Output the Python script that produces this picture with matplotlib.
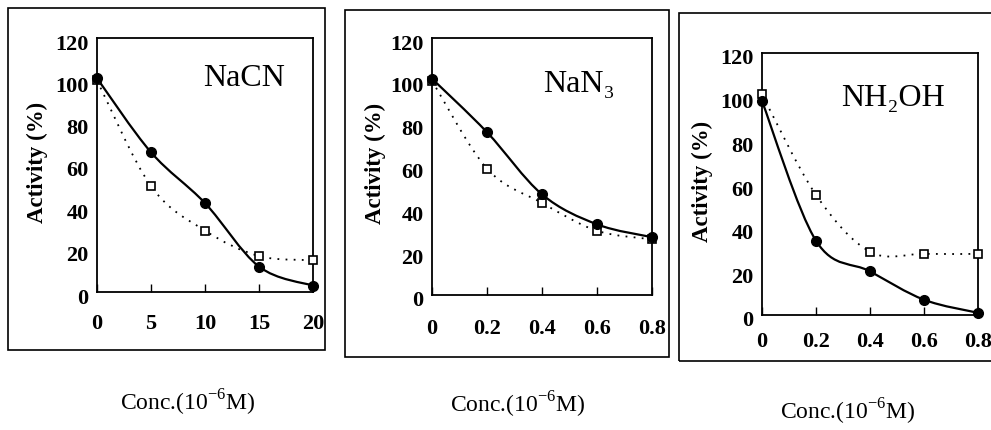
import numpy as np
from matplotlib import pyplot as plt
from matplotlib.path import Path
from matplotlib.patches import PathPatch, Rectangle
from matplotlib.transforms import ScaledTranslation

plt.rcParams['font.family'] = ['Liberation Serif', 'DejaVu Serif']
plt.rcParams['mathtext.fontset'] = 'custom'
plt.rcParams['mathtext.rm'] = 'Liberation Serif'

# data
nacn_x = [0, 5, 10, 15, 20]
nacn_filled = [101, 66, 42, 12, 3]
nacn_open = [100, 50, 29, 17, 15]

nan3_x = [0, 0.2, 0.4, 0.6, 0.8]
nan3_filled = [101, 76, 47, 33, 27]
nan3_open = [100, 59, 43, 30, 26]

nh2oh_x = [0, 0.2, 0.4, 0.6, 0.8]
nh2oh_filled = [98, 34, 20, 7, 1]
nh2oh_open = [101, 55, 29, 28, 28]

nacn_ticks = [0, 5, 10, 15, 20]
conc_ticks = [0, 0.2, 0.4, 0.6, 0.8]
conc_ticklabels = ['0', '0.2', '0.4', '0.6', '0.8']
y_ticks = [0, 20, 40, 60, 80, 100, 120]

W, H = 991, 430


def smooth_path(x, y):
    # catmull-rom curve through the points, drawn as bezier segments
    p = np.column_stack([x, y]).astype(float)
    n = len(p)
    verts = [p[0]]
    codes = [Path.MOVETO]
    for i in range(n - 1):
        p0 = p[i - 1] if i > 0 else p[i]
        p3 = p[i + 2] if i + 2 < n else p[i + 1]
        c1 = p[i] + (p[i + 1] - p0) / 6
        c2 = p[i + 1] - (p3 - p[i]) / 6
        verts += [c1, c2, p[i + 1]]
        codes += [Path.CURVE4] * 3
    return Path(verts, codes)


def fig_box(fig, x0, y0, x1, y1):
    fig.patches.append(Rectangle((x0 / W, 1 - y1 / H), (x1 - x0) / W, (y1 - y0) / H,
                                 transform=fig.transFigure, fill=False,
                                 edgecolor='black', linewidth=1.2))


fig = plt.figure(figsize=(9.91, 4.30), dpi=100)

panels = [
    # axes px (left, top, right, bottom), box px, data, ticks, name, name pos, ylabel x, xlabel pos, xtick pad
    ((97, 38, 313, 292), (8, 8, 325, 350), nacn_x, nacn_filled, nacn_open,
     nacn_ticks, [str(t) for t in nacn_ticks], 20, 'NaCN', (244, 78), 37, (188, 403), 16),
    ((432, 38, 652, 295), (345, 10, 669, 357), nan3_x, nan3_filled, nan3_open,
     conc_ticks, conc_ticklabels, 0.8, 'NaN\u2083', (579, 85), 375, (518, 405), 17),
    ((762, 53, 978, 315), (679, 13, 1000, 361), nh2oh_x, nh2oh_filled, nh2oh_open,
     conc_ticks, conc_ticklabels, 0.8, 'NH\u2082OH', (893, 98), 702, (848, 412), 12),
]

for (l, t, r, b), box, x, yf, yo, ticks, ticklabels, xmax, name, npos, ylx, xlpos, xpad in panels:
    fig_box(fig, *box)
    ax = fig.add_axes([l / W, 1 - b / H, (r - l) / W, (b - t) / H])
    ax.set_xlim(0, xmax)
    ax.set_ylim(0, 120)
    for s in ax.spines.values():
        s.set_linewidth(1.3)

    ax.add_patch(PathPatch(smooth_path(x, yo), fill=False, edgecolor='black',
                           linewidth=1.3, linestyle=(0, (1, 3.5))))
    ax.add_patch(PathPatch(smooth_path(x, yf), fill=False, edgecolor='black',
                           linewidth=1.6))
    ax.plot(x, yo, 's', markersize=6, markerfacecolor='white',
            markeredgecolor='black', markeredgewidth=1.2, clip_on=False, zorder=3)
    ax.plot(x, yf, 'o', markersize=7, color='black', clip_on=False, zorder=4)

    ax.set_xticks(ticks)
    ax.set_xticklabels(ticklabels)
    ax.set_yticks(y_ticks)
    ax.tick_params(axis='x', direction='in', length=6, width=1, pad=xpad,
                   labelsize=16)
    ax.tick_params(axis='y', length=0, pad=6, labelsize=16)
    for lab in ax.get_xticklabels() + ax.get_yticklabels():
        lab.set_fontweight('bold')
    for lab in ax.get_yticklabels():
        lab.set_transform(lab.get_transform() + ScaledTranslation(0, -4 / 100, fig.dpi_scale_trans))

    fig.text(npos[0] / W, 1 - npos[1] / H, name, fontsize=23, ha='center', va='center')
    fig.text(ylx / W, 1 - ((t + b) / 2 - 3) / H, 'Activity (%)', fontsize=16.5,
             fontweight='bold', rotation=90, ha='center', va='center')
    fig.text(xlpos[0] / W, 1 - xlpos[1] / H, r'Conc.(10$^{-6}$M)', fontsize=17,
             ha='center', va='center')

fig.savefig('out.png', dpi=100)
